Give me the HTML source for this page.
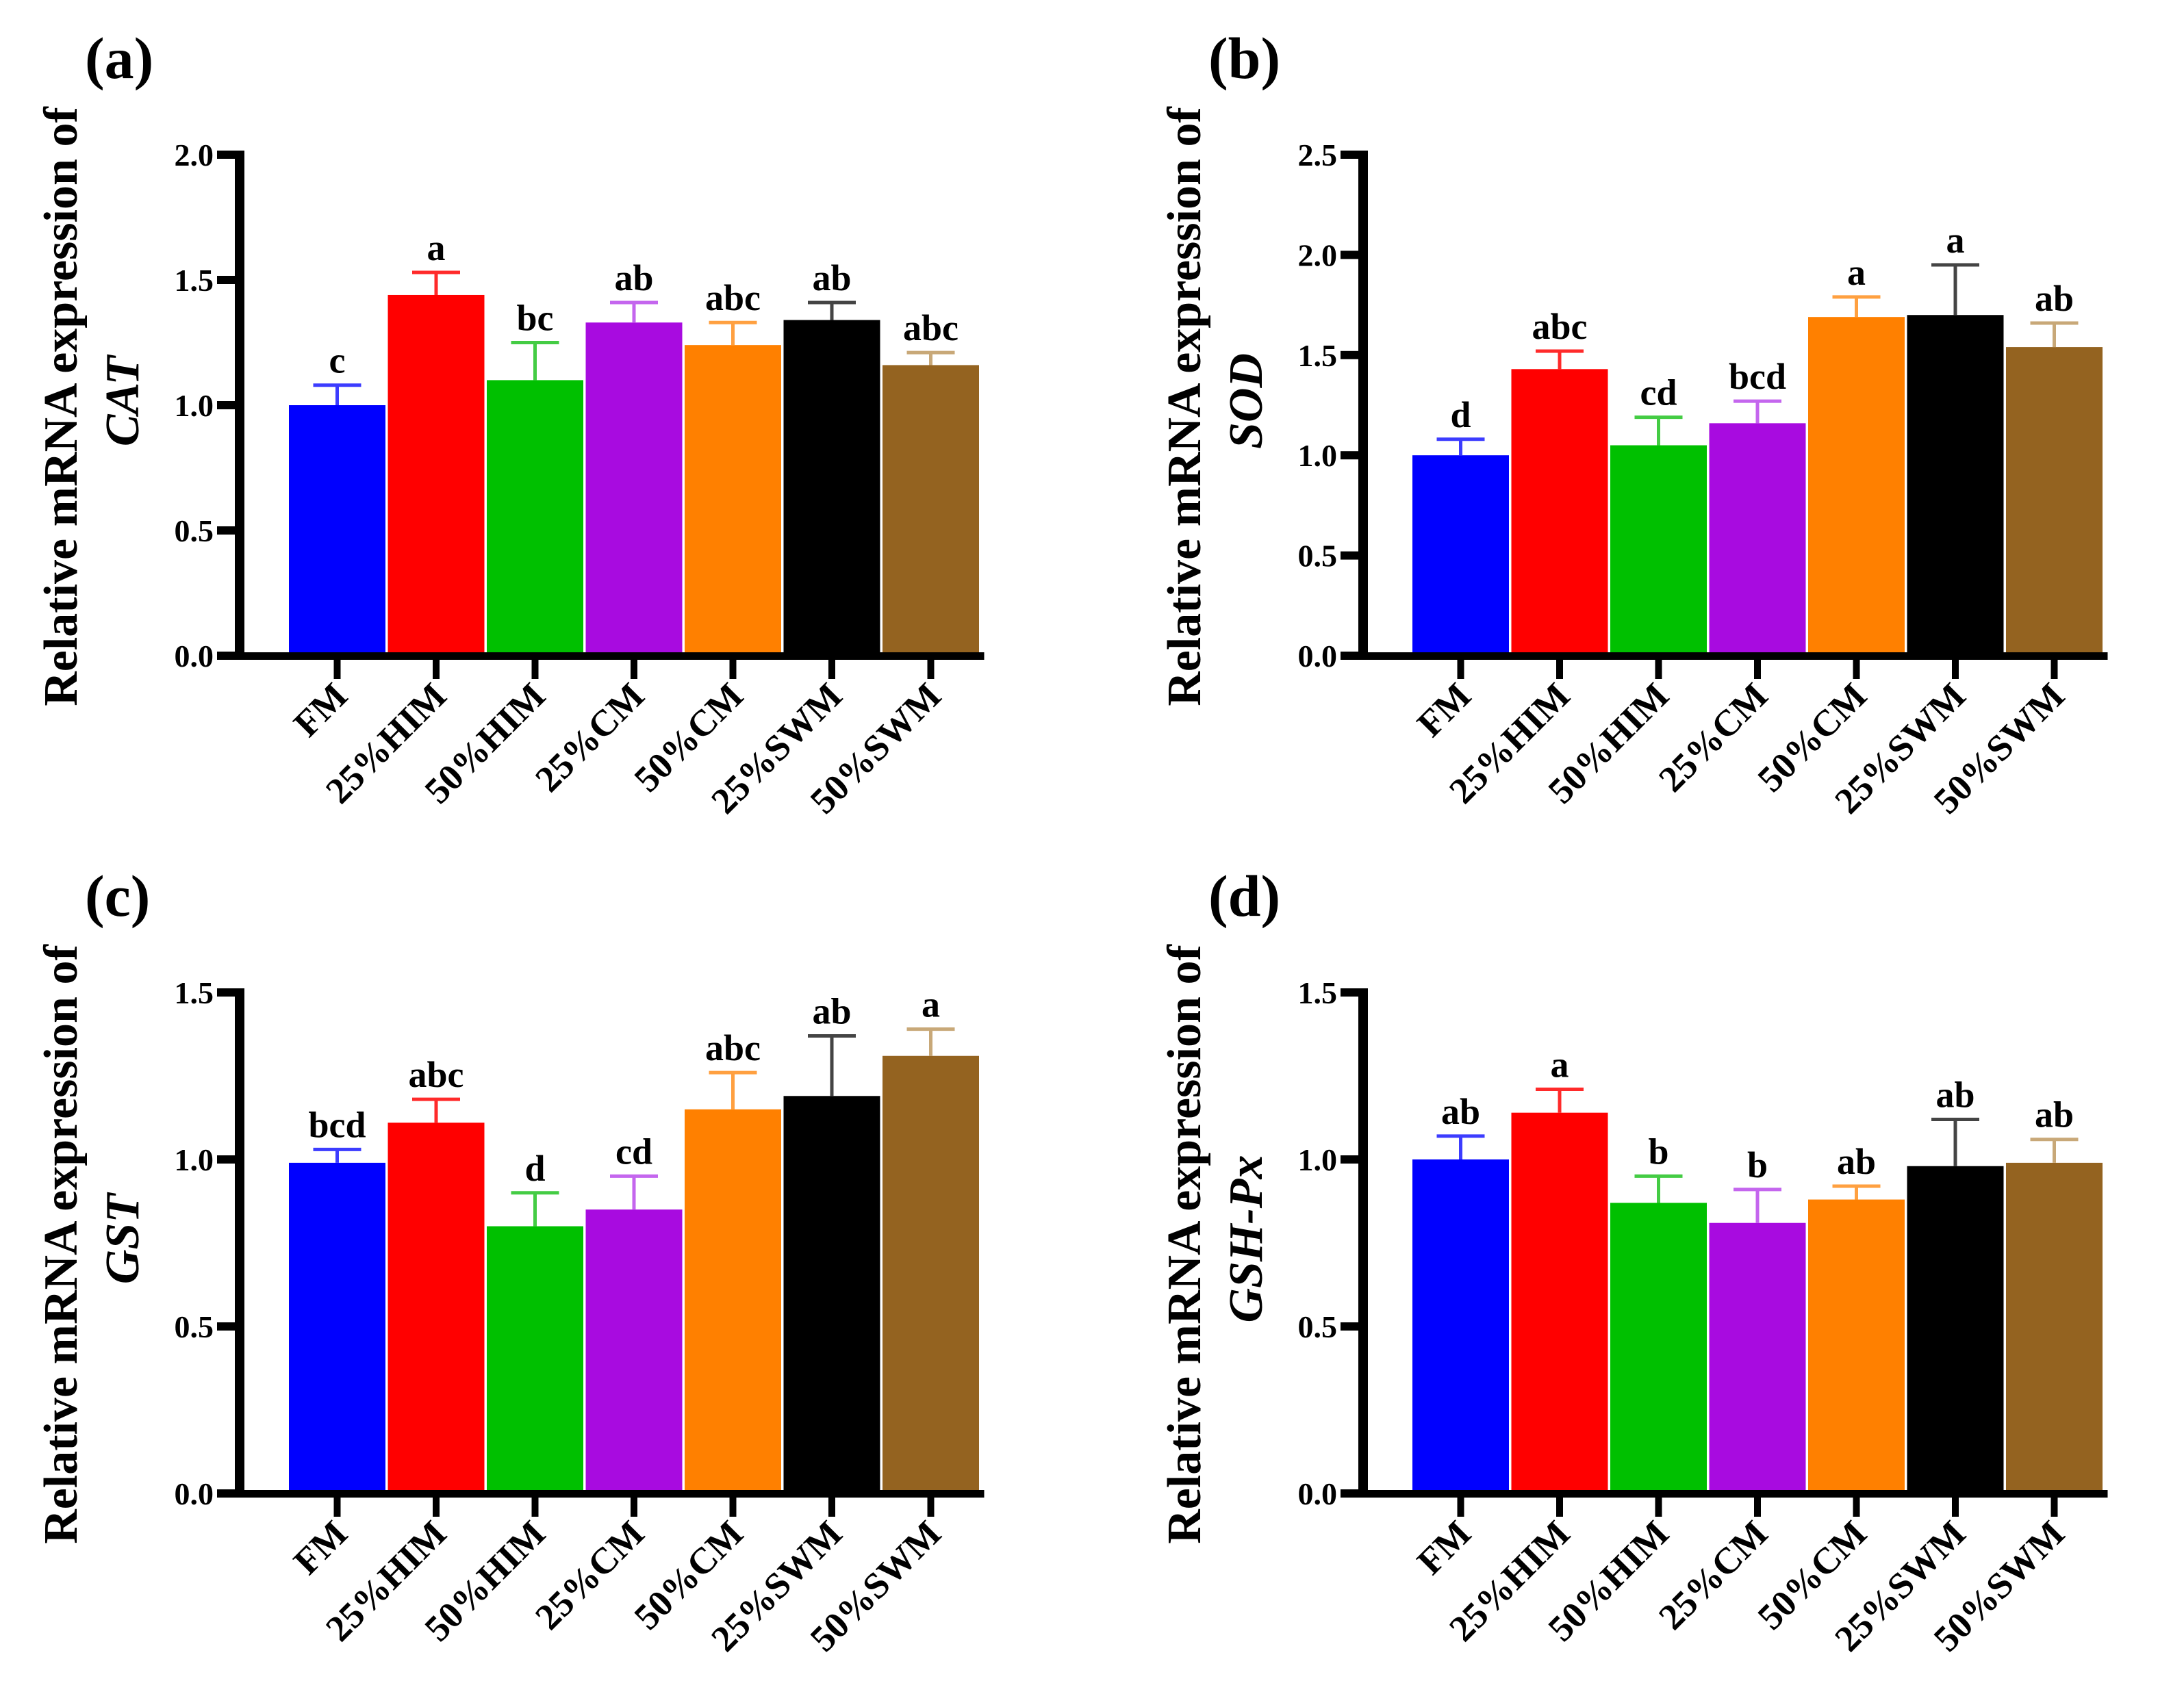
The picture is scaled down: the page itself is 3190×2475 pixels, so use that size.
<!DOCTYPE html>
<html><head><meta charset="utf-8"><style>
html,body{margin:0;padding:0;background:#fff}
svg{display:block}
text{font-family:"Liberation Serif",serif;font-weight:bold;fill:#000}
</style></head><body>
<svg id="fig" width="3190" height="2475" viewBox="0 0 3190 2475" xmlns="http://www.w3.org/2000/svg"></svg>
<script>
const categories = ["FM","25%HIM","50%HIM","25%CM","50%CM","25%SWM","50%SWM"];
const catValues = [1.00,1.44,1.10,1.33,1.24,1.34,1.16];
const catErr = [1.08,1.53,1.25,1.41,1.33,1.41,1.21];
const catLetters = ["c","a","bc","ab","abc","ab","abc"];
const sodValues = [1.00,1.43,1.05,1.16,1.69,1.70,1.54];
const sodErr = [1.08,1.52,1.19,1.27,1.79,1.95,1.66];
const sodLetters = ["d","abc","cd","bcd","a","a","ab"];
const gstValues = [0.99,1.11,0.80,0.85,1.15,1.19,1.31];
const gstErr = [1.03,1.18,0.90,0.95,1.26,1.37,1.39];
const gstLetters = ["bcd","abc","d","cd","abc","ab","a"];
const gshValues = [1.00,1.14,0.87,0.81,0.88,0.98,0.99];
const gshErr = [1.07,1.21,0.95,0.91,0.92,1.12,1.06];
const gshLetters = ["ab","a","b","b","ab","ab","ab"];
const ticksCat = ["0.0","0.5","1.0","1.5","2.0"];
const ticksSod = ["0.0","0.5","1.0","1.5","2.0","2.5"];
const ticksGst = ["0.0","0.5","1.0","1.5"];
const ticksGsh = ["0.0","0.5","1.0","1.5"];

const fill = ["#0000ff","#ff0000","#00c000","#a80be0","#ff8000","#000000","#946320"];
const errc = ["#3c3cff","#ff2a2a","#44cc44","#c466ee","#ffa040","#444444","#c8a878"];
const NS="http://www.w3.org/2000/svg";
const svg=document.getElementById('fig');
function mk(tag,attrs,parent){const e=document.createElementNS(NS,tag);for(const k in attrs)e.setAttribute(k,attrs[k]);(parent||svg).appendChild(e);return e;}

function panel(cfg){
  const g=mk('g',{});
  
  
  const ax=cfg.ax, y0=cfg.y0, ytop=cfg.ytop, maxV=cfg.max;
  const yS=v=>y0-(v/maxV)*(y0-ytop);
  const pitch=144.5, bx0=cfg.ax+72, bw=141;
  const xS=i=>bx0+i*pitch;
  const pl=mk('text',{x:ax-226,y:ytop-112,'font-size':86},g);pl.textContent='('+cfg.id+')';
  
  
  const mid=(y0+ytop)/2;
  const t1=mk('text',{x:0,y:0,'font-size':70,'text-anchor':'middle',transform:`translate(${ax-238},${mid+2}) rotate(-90)`},g);
  t1.textContent='Relative mRNA expression of';
  
  
  const t2=mk('text',{x:0,y:0,'font-size':70,'text-anchor':'middle','font-style':'italic',transform:`translate(${ax-148},${mid-6}) rotate(-90)`},g);
  t2.textContent=cfg.gene;
  
  
  cfg.values.forEach((v,i)=>{
    const x=xS(i);
    const r=mk('rect',{x:x,y:yS(v),width:bw,height:y0-yS(v),fill:fill[i]},g);
    
    
    const cx=x+bw/2, ye=yS(cfg.err[i]);
    const el=mk('path',{d:`M${cx} ${yS(v)}V${ye}M${cx-35} ${ye}H${cx+35}`,stroke:errc[i],'stroke-width':5,fill:'none'},g);
    
    
    const lt=mk('text',{x:cx,y:ye-18,'font-size':54,'text-anchor':'middle'},g);
    lt.textContent=cfg.letters[i];
    
    
    const tk=mk('rect',{x:cx-5,y:y0,width:10,height:34,fill:'#000'},g);
    
    
    const xl=mk('text',{x:0,y:0,'font-size':54,'text-anchor':'end',transform:`translate(${cx+18},${y0+62}) rotate(-45)`},g);
    xl.textContent=categories[i];
    
    
  });
  const ya=mk('rect',{x:ax-7,y:ytop-6,width:14,height:y0-ytop+11,fill:'#000'},g);
  
  
  const xa=mk('rect',{x:ax-33,y:y0-5,width:bx0+7*pitch+4-(ax-33),height:11,fill:'#000'},g);
  
  
  cfg.ticks.forEach(t=>{
    const y=yS(parseFloat(t));
    const tk=mk('rect',{x:ax-33,y:y-6,width:30,height:12,fill:'#000'},g);
    
    
    const tl=mk('text',{x:ax-38,y:y+16,'font-size':46,'text-anchor':'end'},g);
    tl.textContent=t;
    
    
  });
}
panel({id:'a',gene:'CAT',ax:350,y0:958,ytop:226,max:2.0,values:catValues,err:catErr,letters:catLetters,ticks:ticksCat});
panel({id:'b',gene:'SOD',ax:1991,y0:958,ytop:226,max:2.5,values:sodValues,err:sodErr,letters:sodLetters,ticks:ticksSod});
panel({id:'c',gene:'GST',ax:350,y0:2182,ytop:1450,max:1.5,values:gstValues,err:gstErr,letters:gstLetters,ticks:ticksGst});
panel({id:'d',gene:'GSH-Px',ax:1991,y0:2182,ytop:1450,max:1.5,values:gshValues,err:gshErr,letters:gshLetters,ticks:ticksGsh});
</script>
</body></html>
